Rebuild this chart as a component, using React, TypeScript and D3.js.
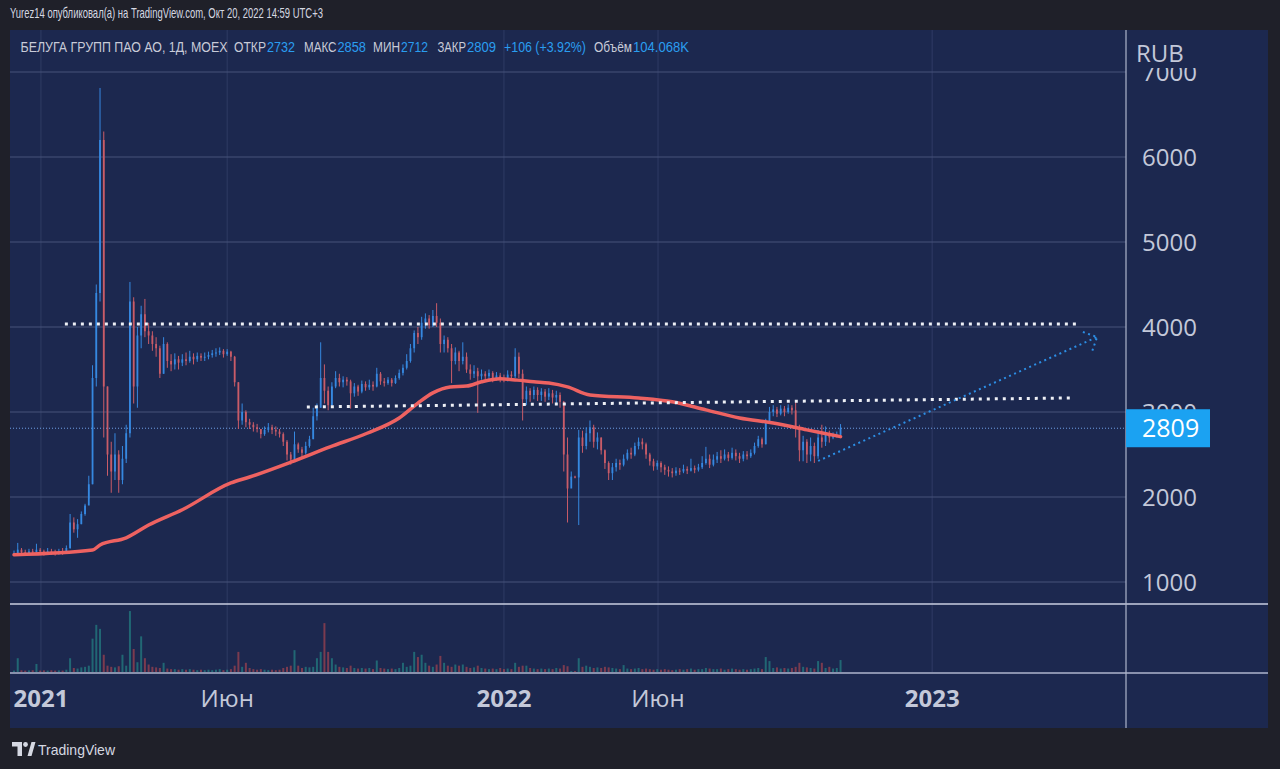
import React from "react";
import * as d3 from "d3";

// ---- DATA (2-trading-day bars, Dec 2020 .. Oct 20 2022) ----
const firstOpen = 1330;
const closes = [
  1340,1380,1350,1340,1360,1350,1380,1360,1340,1360,1350,1340,1360,1350,1400,
  1700,1620,1680,1800,1900,2150,3400,4400,6200,3300,2500,2300,2500,2200,2450,2750,
  4300,3300,3900,4150,3950,3900,3800,3750,3450,3800,3600,3560,3620,3580,3620,
  3600,3650,3620,3660,3640,3650,3670,3690,3700,3720,3680,3710,3650,3350,2900,
  3000,2880,2850,2820,2800,2740,2790,2820,2790,2770,2740,2650,2500,2440,2620,
  2560,2520,2600,2680,2950,3050,3400,3250,3080,3300,3400,3350,3380,3360,3220,
  3300,3240,3330,3290,3320,3300,3450,3360,3340,3380,3340,3400,3460,3520,3600,
  3750,3930,3880,4050,4100,4020,4130,4050,3800,3850,3750,3600,3700,3600,3650,
  3500,3450,3480,3420,3450,3420,3460,3400,3430,3400,3380,3440,3420,3650,3450,
  3150,3250,3200,3260,3200,3240,3180,3220,3170,3200,3120,2500,2100,2240,2230,
  2700,2600,2750,2820,2650,2700,2550,2400,2280,2350,2400,2380,2450,2520,2500,
  2600,2650,2620,2500,2420,2360,2400,2350,2320,2300,2280,2310,2300,2330,2310,
  2340,2320,2350,2400,2450,2380,2440,2480,2450,2500,2460,2520,2480,2450,2500,
  2480,2520,2600,2680,2620,2880,3000,3030,2980,3040,3000,3050,3020,2800,2550,
  2650,2500,2600,2480,2700,2650,2750,2700,2720,2732,2809,
];
const highs = [
  1370,1460,1400,1380,1390,1390,1450,1400,1380,1400,1390,1380,1390,1400,1430,
  1800,1760,1740,1830,1920,2250,3550,4500,6812,6300,3300,2650,2750,2550,2600,2850,
  4530,4350,4000,4250,4330,4050,3950,3880,3780,3880,3820,3680,3690,3660,3680,
  3700,3720,3690,3700,3690,3700,3710,3730,3750,3760,3740,3740,3720,3660,3350,
  3100,3020,2920,2880,2860,2800,2830,2870,2850,2830,2800,2760,2670,2530,2770,
  2640,2590,2650,2720,3050,3100,3820,3560,3300,3350,3480,3450,3420,3410,3380,
  3340,3320,3370,3360,3380,3360,3520,3470,3400,3410,3400,3430,3500,3560,3680,
  3800,3960,4000,4120,4160,4140,4200,4280,4100,3900,3880,3800,3760,3720,3820,
  3700,3560,3550,3520,3500,3480,3500,3480,3470,3460,3440,3490,3480,3750,3700,
  3500,3300,3280,3300,3290,3280,3270,3280,3260,3250,3230,3130,2700,2300,2250,
  2790,2780,2820,2900,2850,2760,2700,2560,2420,2400,2450,2440,2500,2560,2580,
  2640,2700,2690,2640,2520,2450,2430,2420,2380,2360,2340,2350,2340,2380,2360,
  2450,2370,2390,2480,2590,2500,2500,2530,2550,2560,2530,2580,2560,2520,2540,
  2540,2560,2640,2720,2700,2920,3060,3080,3060,3080,3070,3090,3080,3120,2850,
  2720,2680,2700,2640,2790,2850,2830,2780,2760,2770,2858,
];
const lows = [
  1310,1330,1320,1310,1320,1320,1330,1330,1310,1320,1320,1310,1320,1320,1340,
  1390,1580,1520,1680,1780,1980,2150,3300,4300,2700,2250,2050,2200,2050,2150,2400,
  2700,3100,3050,3750,3880,3800,3720,3650,3400,3450,3520,3480,3500,3500,3540,
  3550,3580,3560,3590,3600,3600,3620,3640,3650,3670,3640,3660,3600,3300,2800,
  2850,2820,2800,2770,2760,2690,2720,2760,2740,2720,2700,2600,2430,2380,2430,
  2520,2470,2500,2580,2680,2900,3050,3100,3020,3050,3280,3300,3290,3310,3040,
  3180,3190,3220,3250,3260,3250,3290,3320,3300,3320,3300,3330,3380,3430,3500,
  3580,3700,3800,3850,3980,3980,4000,4000,3700,3700,3700,3340,3560,3480,3560,
  3460,3380,3400,2990,3380,3370,3380,3350,3370,3350,3350,3360,3370,3400,3400,
  2900,3080,3120,3150,3130,3130,3120,3140,3100,3080,3050,2300,1700,2200,2220,
  1670,2520,2560,2650,2580,2560,2500,2330,2200,2200,2300,2320,2360,2430,2450,
  2480,2560,2560,2450,2370,2310,2320,2290,2260,2240,2230,2250,2260,2280,2270,
  2300,2280,2300,2330,2380,2340,2360,2400,2400,2430,2420,2440,2430,2400,2420,
  2440,2460,2500,2580,2580,2620,2870,2950,2940,2960,2950,2980,2970,2700,2420,
  2420,2400,2420,2400,2450,2580,2600,2640,2680,2700,2712,
];
// volume, thousands of shares
const volumes = [
  12,120,15,12,14,15,70,12,14,12,15,12,14,12,20,
  120,35,30,40,45,55,290,410,375,150,55,45,40,50,150,55,
  530,200,85,310,120,65,45,40,35,80,30,25,25,20,25,
  20,25,20,16,20,16,20,16,20,25,16,20,25,55,175,
  45,80,35,25,20,25,20,16,20,16,20,35,45,55,190,
  55,35,45,40,45,120,175,425,175,120,65,45,40,35,55,
  35,30,35,30,35,25,100,35,30,25,30,25,35,80,45,
  55,175,130,150,80,55,45,65,140,80,55,45,65,55,65,
  45,35,40,55,35,30,25,30,25,35,25,30,25,80,45,
  55,55,35,30,25,30,25,30,25,35,30,60,50,8,8,
  120,45,55,45,35,40,35,45,40,35,30,25,60,30,25,
  30,35,25,30,25,20,25,20,25,20,16,20,25,20,25,
  30,20,25,25,35,30,25,25,30,20,25,30,25,20,25,
  20,25,30,35,25,130,95,35,40,30,35,30,35,45,80,
  45,40,35,30,95,80,35,45,30,35,104,
];
// moving average: [bar index, value]
const maPoints: [number, number][] = [
  [0,1320],[21,1376],[23,1435],[30,1520],[36,1670],[45,1850],[58,2165],[63,2235],
  [74,2410],[84.5,2590],[94.4,2750],[103,2930],[108,3105],[112,3225],[116.6,3295],
  [121,3305],[125,3355],[130,3390],[134.5,3375],[139,3355],[143,3340],[148,3295],
  [154,3200],[167,3165],[176,3120],[185,3025],[194,2930],[203,2870],[212,2790],[221,2710],
];
const priceTicks = [1000, 2000, 3000, 4000, 5000, 6000, 7000];
const timeTickIdx = [7.2, 57, 131, 172.2, 245.5];
const timeTickLabels = ["2021", "Июн", "2022", "Июн", "2023"];
const timeTickBold = [true, false, true, false, true];
const resistanceLine: [number, number][] = [[13.6, 4035], [284.5, 4035]];
const supportLine: [number, number][] = [[78.3, 3059], [282.4, 3165]];
const arrowLine: [number, number][] = [[215, 2424], [289.6, 3882]];
const arrowHead: [number, number][] = [[285.8, 3941], [289.6, 3882], [288.2, 3706]];
const lastPrice = 2809;
const legendTitle = "БЕЛУГА ГРУПП ПАО АО, 1Д, MOEX";
const legendLabels = ["ОТКР", "МАКС", "МИН", "ЗАКР"];
const legendValues = ["2732", "2858", "2712", "2809"];
const legendChange = "+106 (+3.92%)";
const legendVolLabel = "Объём";
const legendVolValue = "104.068K";

// ---- LAYOUT ----
const W = 1280, H = 769;
const panelL = 10, panelR = 1268, panelT = 30, panelB = 728;
const plotR = 1126;
const priceB = 604, volB = 672;
const BG = "#1f2029";
const NAVY = "#1c284f";
const TXT = "#c3c8d9";
const UP = "#3688e0";
const DOWN = "#c95c68";
const FONT = "'Open Sans', 'Noto Sans', sans-serif";
const NARROW = "'Liberation Sans Narrow', 'Liberation Sans', sans-serif";

export default function App() {
  const x = d3.scaleLinear().domain([0, 300]).range([14, 14 + 300 * 3.74]);
  const y = d3.scaleLinear().domain([1000, 7000]).range([582, 72]);
  const vy = d3.scaleLinear().domain([0, 600]).range([volB, 603]);
  const line = d3.line<[number, number]>().x((d) => x(d[0])).y((d) => y(d[1]));
  const maLine = d3
    .line<[number, number]>()
    .x((d) => x(d[0]))
    .y((d) => y(d[1]))
    .curve(d3.curveMonotoneX);

  const bars = closes.map((c, i) => {
    const o = i === 0 ? firstOpen : closes[i - 1];
    return { i, o, c, h: highs[i], l: lows[i], v: volumes[i], up: c >= o };
  });

  const legendXs = [
    [234, 267, 295], [304, 337.5, 366], [373, 401, 428], [437.5, 467, 496],
  ];
  const LY = 52;

  return (
    <svg width={W} height={H} style={{ position: "absolute", left: 0, top: 0 }}>
      <defs>
        <clipPath id="pricePane">
          <rect x={panelL} y={panelT} width={plotR - panelL} height={priceB - panelT} />
        </clipPath>
        <clipPath id="volPane">
          <rect x={panelL} y={priceB + 1} width={plotR - panelL} height={volB - priceB - 1} />
        </clipPath>
        <clipPath id="axisClip">
          <rect x={plotR} y={68} width={panelR - plotR} height={priceB - 68} />
        </clipPath>
      </defs>
      <rect x={0} y={0} width={W} height={H} fill={BG} />
      <text x={10} y={18} fill="#d5d8e2" fontSize={15} fontFamily={NARROW}
        textLength={313} lengthAdjust="spacingAndGlyphs">
        Yurez14 опубликовал(а) на TradingView.com, Окт 20, 2022 14:59 UTC+3
      </text>
      <rect x={panelL} y={panelT} width={panelR - panelL} height={panelB - panelT} fill={NAVY} />

      {/* vertical grid */}
      {timeTickIdx.map((t, k) => (
        <line key={"vg" + k} x1={x(t)} x2={x(t)} y1={panelT} y2={volB} stroke="#2f3b64" strokeWidth={1} />
      ))}
      {/* horizontal grid */}
      {priceTicks.map((p) => (
        <line key={"hg" + p} x1={panelL} x2={plotR} y1={y(p)} y2={y(p)} stroke="#46527b" strokeWidth={1} />
      ))}

      <g clipPath="url(#pricePane)">
        {/* last price line */}
        <line x1={panelL} x2={plotR} y1={y(lastPrice)} y2={y(lastPrice)} stroke="#6f9fe6" strokeWidth={1} strokeDasharray="1,2" />
        {/* candles */}
        {bars.map((b) => {
          const col = b.up ? UP : DOWN;
          const top = y(Math.max(b.o, b.c));
          const hgt = Math.max(1, Math.abs(y(b.o) - y(b.c)));
          return (
            <g key={"c" + b.i}>
              <line x1={x(b.i)} x2={x(b.i)} y1={y(b.h)} y2={y(b.l)} stroke={col} strokeWidth={1} />
              <rect x={x(b.i) - 0.9} y={top} width={1.8} height={hgt} fill={col} />
            </g>
          );
        })}
        {/* moving average */}
        <path d={maLine(maPoints) || ""} fill="none" stroke="#ee6261" strokeWidth={3.5} strokeLinecap="round" />
        {/* drawn lines */}
        <path d={line(resistanceLine) || ""} stroke="#eef0f6" strokeWidth={3} strokeDasharray="3,5" fill="none" />
        <path d={line(supportLine) || ""} stroke="#eef0f6" strokeWidth={3} strokeDasharray="3,5" fill="none" />
        <path d={line(arrowLine) || ""} stroke="#2c8fe6" strokeWidth={2} strokeDasharray="2,3.5" fill="none" />
        <path d={line(arrowHead) || ""} stroke="#2c8fe6" strokeWidth={2} strokeDasharray="2,3.5" fill="none" />
      </g>

      {/* volume */}
      <g clipPath="url(#volPane)">
        {bars.map((b) => (
          <rect key={"v" + b.i} x={x(b.i) - 1} y={vy(b.v)} width={2} height={volB - vy(b.v)}
            fill={b.up ? "rgba(38,166,154,0.5)" : "rgba(239,83,80,0.45)"} />
        ))}
      </g>

      {/* pane separators */}
      <line x1={panelL} x2={panelR} y1={priceB} y2={priceB} stroke="#c9cee0" strokeWidth={1.5} />
      <line x1={panelL} x2={panelR} y1={volB + 1} y2={volB + 1} stroke="#aeb5cc" strokeWidth={1.5} />
      <line x1={plotR} x2={plotR} y1={panelT} y2={panelB} stroke="#aeb5cc" strokeWidth={1.2} />

      {/* price axis labels */}
      <g clipPath="url(#axisClip)">
        {priceTicks.map((p) => (
          <text key={"pt" + p} x={1142} y={y(p)} dy="0.36em" fill={TXT} fontSize={24} fontFamily={FONT}>
            {d3.format("d")(p)}
          </text>
        ))}
      </g>
      <text x={1136} y={53} dy="0.36em" fill={TXT} fontSize={24} fontFamily={FONT}>RUB</text>
      <rect x={plotR} y={y(lastPrice) - 19} width={84} height={38} fill="#1ba2f2" />
      <text x={1142} y={y(lastPrice)} dy="0.36em" fill="#ffffff" fontSize={25} fontFamily={FONT}>
        {lastPrice}
      </text>

      {/* time axis labels */}
      {timeTickIdx.map((t, k) => (
        <text key={"tt" + k} x={x(t)} y={698} dy="0.36em" textAnchor="middle" fill={TXT} fontSize={24}
          fontWeight={timeTickBold[k] ? 700 : 400} fontFamily={FONT}>
          {timeTickLabels[k]}
        </text>
      ))}

      {/* legend */}
      <g fontSize={14} fontFamily={NARROW}>
        <text x={20.5} y={LY} fill="#c8cbd8" textLength={207} lengthAdjust="spacingAndGlyphs">{legendTitle}</text>
        {legendLabels.map((lab, k) => (
          <g key={"lg" + k}>
            <text x={legendXs[k][0]} y={LY} fill="#c8cbd8" textLength={legendXs[k][1] - legendXs[k][0] - 1} lengthAdjust="spacingAndGlyphs">{lab}</text>
            <text x={legendXs[k][1]} y={LY} fill="#2a9df0" textLength={legendXs[k][2] - legendXs[k][1]} lengthAdjust="spacingAndGlyphs">{legendValues[k]}</text>
          </g>
        ))}
        <text x={504} y={LY} fill="#2a9df0" textLength={82} lengthAdjust="spacingAndGlyphs">{legendChange}</text>
        <text x={594} y={LY} fill="#c8cbd8" textLength={38} lengthAdjust="spacingAndGlyphs">{legendVolLabel}</text>
        <text x={633} y={LY} fill="#2a9df0" textLength={56} lengthAdjust="spacingAndGlyphs">{legendVolValue}</text>
      </g>

      {/* TradingView logo */}
      <g fill="#d5d8e2">
        <path d="M12 742 H22 V756 H17.5 V746.5 H12 Z" />
        <circle cx={25.5} cy={744.5} r={2.4} />
        <path d="M27.5 756 L31.5 742 H35.5 L31.5 756 Z" />
        <text x={38} y={754.5} fontSize={15} fontFamily={NARROW}
          textLength={77} lengthAdjust="spacingAndGlyphs">TradingView</text>
      </g>
    </svg>
  );
}
